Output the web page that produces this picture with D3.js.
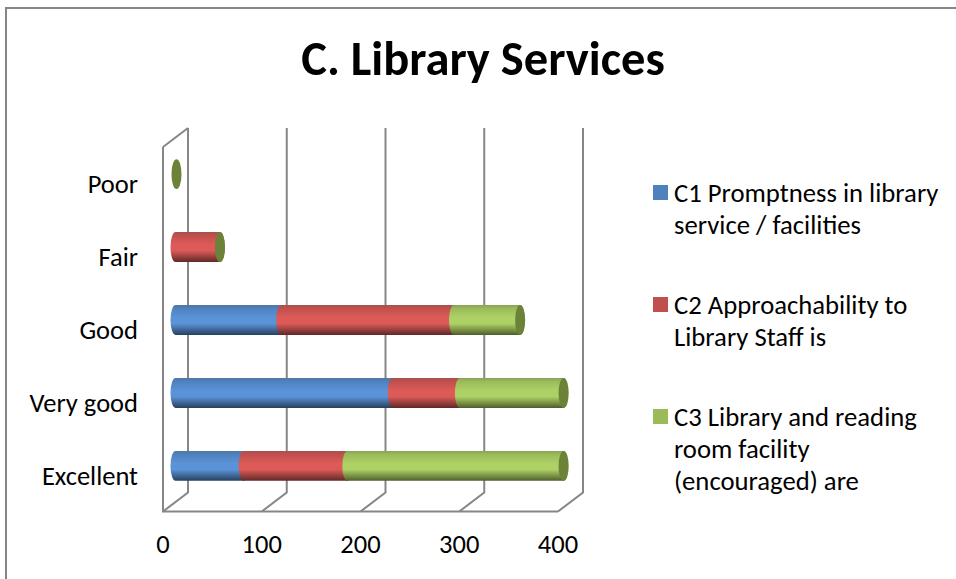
<!DOCTYPE html>
<html><head><meta charset="utf-8">
<script src="https://cdn.jsdelivr.net/npm/d3@7"></script>
<style>html,body{margin:0;padding:0;background:#fff}svg{display:block}text{font-family:Carlito,Calibri,Lato,"Open Sans",sans-serif;fill:#000}</style>
</head><body><svg id="c" width="956" height="579"></svg>
<script>
const categories=["Excellent","Very good","Good","Fair","Poor"];
const seriesNames=["C1","C2","C3"];
const c1=[69,220,107,0,0];
const c2=[105,68,175,45,0];
const c3=[219,105,67,0,1];
const xTicks=[0,100,200,300,400];
const legendLines=[["C1 Promptness in library","service / facilities"],["C2 Approachability to","Library Staff is"],["C3 Library and reading","room facility","(encouraged) are"]];
const baseColors=["#4f81bd","#c0504d","#9bbb59"];
const lightColors=["#5b93d8","#dc5b58","#aed166"];
const darkColors=["#27405f","#602826","#4e5e2c"];
const capColors=["#3f6797","#9a403e","#6b8238"];

const svg=d3.select("#c");
const defs=svg.append("defs");
baseColors.forEach((b,i)=>{
  const g=defs.append("linearGradient").attr("id","g"+i).attr("x1",0).attr("y1",0).attr("x2",0).attr("y2",1);
  [[0,d3.interpolateRgb(b,"#555")(0.25)],[.12,b],[.42,lightColors[i]],[.62,lightColors[i]],[.85,d3.interpolateRgb(b,darkColors[i])(.5)],[1,darkColors[i]]]
    .forEach(([o,c])=>g.append("stop").attr("offset",o).attr("stop-color",c));
});

// frame
const grey="#868686";
svg.append("path").attr("d","M6 579V8H956").attr("fill","none").attr("stroke",grey).attr("stroke-width",2);

svg.append("text").attr("x",483).attr("y",75).attr("text-anchor","middle")
  .attr("font-weight",700).attr("font-size",48.5).text("C. Library Services");

// scales: front plane of the 3-D box; the back plane and bars are offset from it
const x=d3.scaleLinear().domain([0,400]).range([163,558]);
const y=d3.scaleBand().domain(categories).range([504,140]).paddingInner(0.59).paddingOuter(0.29);
const depthX=25, depthY=19, frontBottom=511.5, frontTop=147;
const barDX=12.5, barDY=-2;

const wall=svg.append("g").attr("fill","none").attr("stroke",grey).attr("stroke-width",2);
xTicks.forEach(t=>{
  const fx=x(t), bx=fx+depthX;
  wall.append("path").attr("d",`M${fx} ${frontBottom}L${bx} ${frontBottom-depthY}V${frontTop-depthY}`);
});
wall.append("path").attr("d",`M${x(0)} ${frontTop}V${frontBottom}H${x(400)}`);
wall.append("path").attr("d",`M${x(0)} ${frontTop}L${x(0)+depthX} ${frontTop-depthY}`);

// bars
const series=[c1,c2,c3];
const rx=5;
const bars=svg.append("g");
categories.forEach((cat,ci)=>{
  const h=y.bandwidth(), top=y(cat)+barDY;
  const x0=v=>x(v)+barDX;
  let cum=0; const segs=[];
  series.forEach((s,si)=>{ if(s[ci]>0){segs.push({si,a:cum,b:cum+s[ci]}); cum+=s[ci];} });
  segs.forEach(s=>{
    const a=x0(s.a), b=x0(s.b);
    if(b-a>4){
      bars.append("path")
        .attr("d",`M${a} ${top}H${b}A${rx} ${h/2} 0 0 1 ${b} ${top+h}H${a}A${rx} ${h/2} 0 0 1 ${a} ${top}Z`)
        .attr("fill",`url(#g${s.si})`);
    }
  });
  // end cap is always drawn in the colour of the last series
  bars.append("ellipse").attr("cx",x0(cum)).attr("cy",top+h/2).attr("rx",rx).attr("ry",h/2).attr("fill",capColors[2]);
});

// labels
categories.forEach(cat=>{
  svg.append("text").attr("x",138).attr("y",y(cat)+y.bandwidth()/2+17)
    .attr("text-anchor","end").attr("font-size",26.5).text(cat);
});
xTicks.forEach(t=>{
  svg.append("text").attr("x",x(t)).attr("y",553).attr("text-anchor","middle").attr("font-size",26.5).text(t);
});

// legend
const legendY=[193,305,417], lineH=32;
legendLines.forEach((ls,i)=>{
  svg.append("rect").attr("x",653).attr("y",legendY[i]-8).attr("width",15).attr("height",15).attr("fill",baseColors[i]);
  ls.forEach((l,j)=>svg.append("text").attr("x",674).attr("y",legendY[i]+9+j*lineH).attr("font-size",26.7).text(l));
});
</script></body></html>
